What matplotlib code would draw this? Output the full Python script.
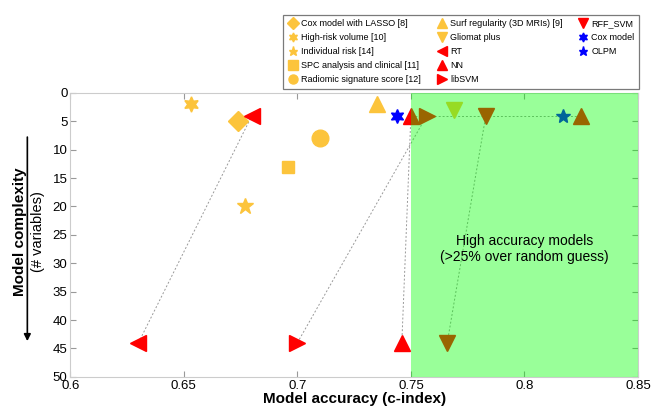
import matplotlib
matplotlib.use("Agg")
import matplotlib.pyplot as plt
from matplotlib.lines import Line2D

plt.rcParams['font.family'] = ['Liberation Sans', 'DejaVu Sans']

# literature models (orange markers)
lit_names = ['Cox model with LASSO [8]', 'High-risk volume [10]', 'Individual risk [14]',
             'SPC analysis and clinical [11]', 'Radiomic signature score [12]',
             'Surf regularity (3D MRIs) [9]', 'Gliomat plus']
lit_acc = [0.674, 0.653, 0.677, 0.696, 0.710, 0.735, 0.769]
lit_nvar = [5, 2, 20, 13, 8, 2, 3]
lit_markers = ['D', (6, 1, 0), '*', 's', 'o', '^', 'v']
lit_sizes = [10, 11, 12, 9, 12, 12, 12]

# our models (red), each with a 44-variable and a 4-variable version
ml_names = ['RT', 'NN', 'libSVM', 'RFF_SVM']
ml_markers = ['<', '^', '>', 'v']
ml_acc_44 = [0.630, 0.746, 0.700, 0.766]
ml_acc_4 = [0.680, 0.750, 0.757, 0.783]
ml_nvar_44 = 44
ml_nvar_4 = 4
nn_extra_acc = 0.825

# blue reference models
ref_names = ['Cox model', 'OLPM']
ref_acc = [0.744, 0.817]
ref_nvar = [4, 4]
ref_markers = [(6, 1, 0), '*']

orange = '#fcc43c'

fig = plt.figure(figsize=(6.51, 4.07), dpi=100)
ax = fig.add_axes([0.108, 0.074, 0.872, 0.698])

handles = []
for n, a, v, m, s in zip(lit_names, lit_acc, lit_nvar, lit_markers, lit_sizes):
    ax.plot(a, v, marker=m, color=orange, ms=s, ls='none', zorder=3)
    handles.append(Line2D([], [], marker=m, color=orange, ms=6.5, ls='none', label=n))

for n, m, a44, a4 in zip(ml_names, ml_markers, ml_acc_44, ml_acc_4):
    ax.plot([a44, a4], [ml_nvar_44, ml_nvar_4], ls=(0, (2, 2)), color='0.6', lw=0.7, zorder=2)
    ax.plot([a44, a4], [ml_nvar_44, ml_nvar_4], marker=m, color='red', ms=12, ls='none', zorder=3)
    handles.append(Line2D([], [], marker=m, color='red', ms=6.5, ls='none', label=n))
ax.plot([ml_acc_4[1], nn_extra_acc], [ml_nvar_4, ml_nvar_4], ls=(0, (2, 2)), color='0.6', lw=0.7, zorder=2)
ax.plot(nn_extra_acc, ml_nvar_4, marker='^', color='red', ms=12, ls='none', zorder=3)

for n, a, v, m in zip(ref_names, ref_acc, ref_nvar, ref_markers):
    ax.plot(a, v, marker=m, color='blue', ms=10, ls='none', zorder=3)
    handles.append(Line2D([], [], marker=m, color='blue', ms=6.5, ls='none', label=n))

# legend order: column-wise 5 / 5 / 3
order = lit_names[:5] + lit_names[5:] + ['RT', 'NN', 'libSVM', 'RFF_SVM'] + ref_names
hmap = {h.get_label(): h for h in handles}
leg_handles = [hmap[k] for k in order] + [Line2D([], [], ls='none', label=' ')]
leg = fig.legend(handles=leg_handles, ncol=3, loc='upper left', bbox_to_anchor=(0.428, 0.975),
                 fontsize=6.5, frameon=True, fancybox=False, edgecolor='0.35',
                 handletextpad=0.3, handlelength=1.2, columnspacing=1.7, labelspacing=0.55,
                 borderpad=0.5)
leg.get_frame().set_linewidth(0.9)

# high accuracy region on top of markers
ax.axvspan(0.75, 0.85, color=(0, 1, 0), alpha=0.4, lw=0, zorder=4)
ax.text(0.8, 27.5, 'High accuracy models\n(>25% over random guess)', ha='center', va='center',
        fontsize=10, zorder=5)

ax.set_xlim(0.6, 0.85)
ax.set_ylim(50, 0)
ax.set_xticks([0.6, 0.65, 0.7, 0.75, 0.8, 0.85])
ax.set_xticklabels(['0.6', '0.65', '0.7', '0.75', '0.8', '0.85'])
ax.set_yticks(range(0, 51, 5))
ax.tick_params(direction='in', top=True, right=True, labelsize=9.5, color='0.6', length=4, pad=2)
for sp in ax.spines.values():
    sp.set_color('0.8')
ax.set_xlabel('Model accuracy (c-index)', fontsize=11, fontweight='bold', labelpad=0)

fig.text(0.031, 0.43, 'Model complexity', rotation=90, ha='center', va='center',
         fontsize=11, fontweight='bold')
fig.text(0.058, 0.43, '(# variables)', rotation=90, ha='center', va='center', fontsize=10.5)
fig.add_artist(matplotlib.patches.FancyArrowPatch((0.042, 0.67), (0.042, 0.155),
               transform=fig.transFigure, arrowstyle='-|>', mutation_scale=10,
               color='black', lw=1.2))

fig.savefig('out.png', dpi=100)
